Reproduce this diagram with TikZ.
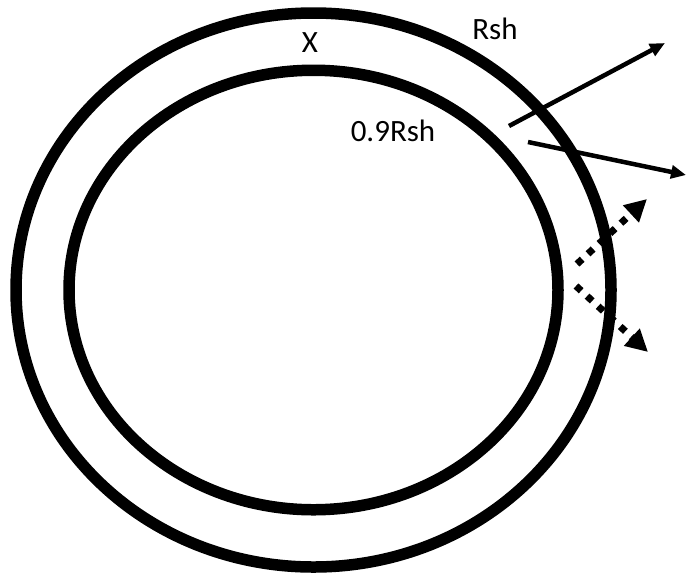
\documentclass[tikz,border=0pt]{standalone}
\usepackage{fontspec}
\setmainfont{Carlito}
\usetikzlibrary{arrows.meta}
\begin{document}
\begin{tikzpicture}[x=1pt,y=-1pt,
  ring/.style={line width=11.5pt},
  label/.style={anchor=base,inner sep=0pt,font=\fontsize{31}{36}\selectfont},
  ray/.style={line width=4.5pt,-{Triangle[length=15pt,width=13pt]}},
  dotray/.style={line width=7pt,dash pattern=on 7pt off 8pt,line cap=butt,
    -{Triangle[length=22pt,width=22pt]}}]
\useasboundingbox (0,0) rectangle (687,574);
% shell and inner boundary
\draw[ring] (313.5,290) ellipse [x radius=297.5, y radius=277];
\draw[ring] (313.5,290) ellipse [x radius=244.5, y radius=219.75];
% labels
\node[label] (x) at (310,52) {X};
\node[label] (rsh) at (495,39) {Rsh};
\node[label] (rin) at (393,141) {0.9Rsh};
% outgoing rays
\coordinate (s1) at (509,126);
\coordinate (e1) at (665,43);
\coordinate (s2) at (528,142);
\coordinate (e2) at (686,175);
\draw[ray] (s1) -- (e1);
\draw[ray] (s2) -- (e2);
% dotted rays
\coordinate (d1) at (577,264);
\coordinate (f1) at (647,199);
\coordinate (d2) at (576,286);
\coordinate (f2) at (648,352);
\draw[dotray] (d1) -- (f1);
\draw[dotray] (d2) -- (f2);
\end{tikzpicture}
\end{document}
